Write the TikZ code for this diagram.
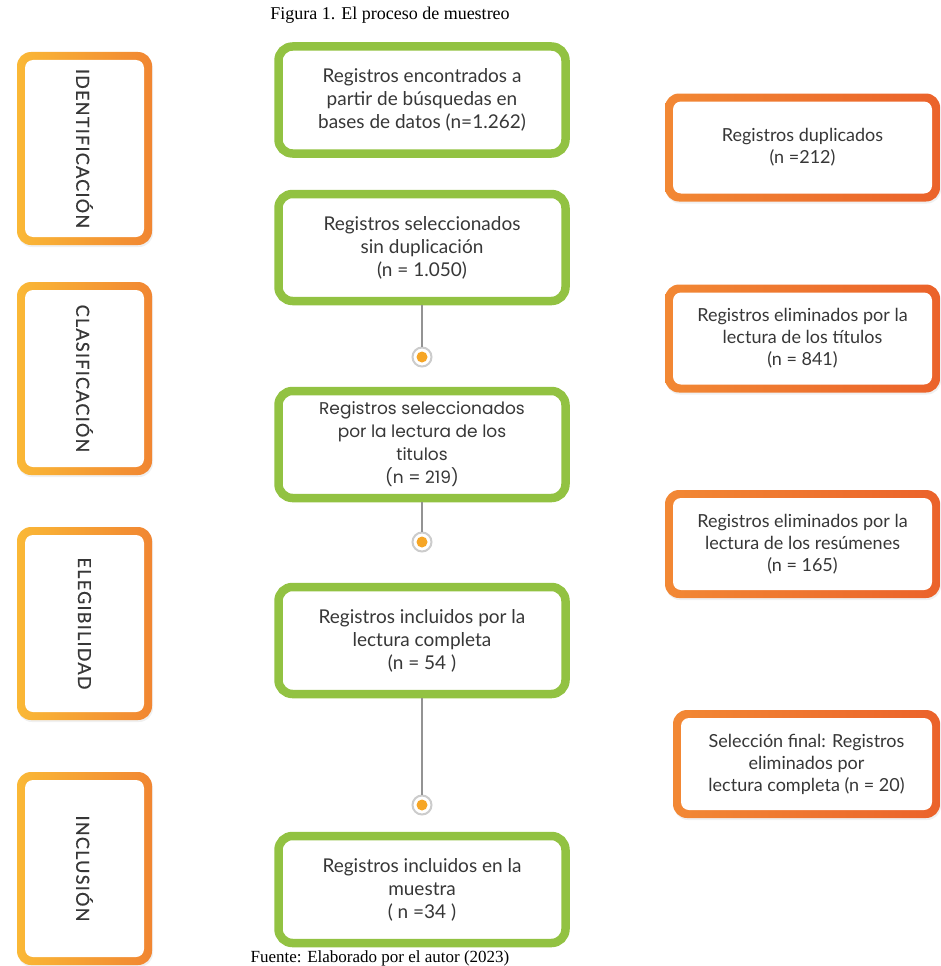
\documentclass[tikz,border=0pt]{standalone}
\usepackage{fontspec}
\usepackage{graphicx}
\setmainfont{Liberation Serif}
\setsansfont{Lato}
\newfontfamily\geofont{Poppins}
\newfontfamily\capsfont[LetterSpace=7,FakeBold=0.6]{Lato}
\usetikzlibrary{positioning,shadows}

\definecolor{boxgreen}{RGB}{146,194,66}
\definecolor{phaseA}{RGB}{250,184,54}
\definecolor{phaseB}{RGB}{241,134,50}
\definecolor{exclA}{RGB}{242,136,52}
\definecolor{exclB}{RGB}{235,98,42}
\definecolor{txtgray}{RGB}{55,55,55}
\definecolor{dotorange}{RGB}{246,166,38}

\begin{document}
\begin{tikzpicture}[x=1pt, y=-1pt, node distance=150pt,
main/.style = {draw=boxgreen, line width=8.5pt, rounded corners=14pt, fill=white,
  minimum width=287pt, minimum height=107pt, align=center, text=txtgray,
  font=\sffamily\fontsize{19}{23}\selectfont,
  drop shadow={opacity=0.12, shadow xshift=1pt, shadow yshift=-2pt}},
phase/.style = {rounded corners=14pt, minimum width=135pt, minimum height=193pt,
  left color=phaseA, right color=phaseB, text=txtgray,
  font=\capsfont\fontsize{18}{20}\selectfont,
  drop shadow={opacity=0.12, shadow xshift=1pt, shadow yshift=-2pt},
  path picture={\fill[white, rounded corners=8pt]
    ([shift={(8pt,8pt)}]path picture bounding box.south west) rectangle
    ([shift={(-8pt,-8pt)}]path picture bounding box.north east);}},
excl/.style = {rounded corners=14pt, minimum width=275pt, minimum height=108pt,
  left color=exclA, right color=exclB, align=center, text=txtgray,
  font=\sffamily\fontsize{18}{22}\selectfont,
  drop shadow={opacity=0.12, shadow xshift=1pt, shadow yshift=-2pt},
  path picture={\fill[white, rounded corners=8pt]
    ([shift={(8pt,8pt)}]path picture bounding box.south west) rectangle
    ([shift={(-8pt,-8pt)}]path picture bounding box.north east);}},
dot/.style = {circle, draw=gray!40, line width=2pt, fill=white,
  minimum size=19pt, inner sep=0pt,
  path picture={\fill[dotorange] (path picture bounding box.center) circle (5.5pt);}},
link/.style = {draw=gray!85, line width=1.2pt}]

    \useasboundingbox (0,0) rectangle (941,966);

    \node[font=\fontsize{18}{20}\selectfont] (0) at (390,15) {Figura 1. El proceso de muestreo};

    % flujo central
    \node[main] (1) at (422,100) {Registros encontrados a\\partir de búsquedas en\\bases de datos (n=1.262)};
    \node[main] (2) [below of=1, node distance=147.5pt] {Registros seleccionados\\sin duplicación\\(n = 1.050)};
    \node[main, font=\geofont\fontsize{17}{23}\selectfont] (3) [below of=2, node distance=197pt] {Registros seleccionados\\por la lectura de los\\titulos\\(n = 219)};
    \node[main] (4) [below of=3, node distance=196pt] {Registros incluidos por la\\lectura completa\\(n = 54 )};
    \node[main] (5) [below of=4, node distance=249pt] {Registros incluidos en la\\muestra\\( n =34 )};

    % fases
    \node[phase] (6) at (84.5,148.5) {\rotatebox{-90}{IDENTIFICACIÓN}};
    \node[phase] (7) [below of=6, node distance=230pt] {\rotatebox{-90}{CLASIFICACIÓN}};
    \node[phase] (8) [below of=7, node distance=245pt] {\rotatebox{-90}{ELEGIBILIDAD}};
    \node[phase] (9) [below of=8, node distance=245pt] {\rotatebox{-90}{INCLUSIÓN}};

    % excluidos
    \node[excl] (10) at (802.5,147.5) {Registros duplicados\\(n =212)};
    \node[excl] (11) [below of=10, node distance=191pt] {Registros eliminados por la\\lectura de los títulos\\(n = 841)};
    \node[excl] (12) [below of=11, node distance=205.5pt] {Registros eliminados por la\\lectura de los resúmenes\\(n = 165)};
    \node[excl, minimum width=267pt] (13) [below of=12, node distance=220pt, xshift=4pt] {Selección final: Registros\\eliminados por\\lectura completa (n = 20)};

    \node[dot] (14) [below of=2, node distance=109.5pt] {};
    \node[dot] (15) [below of=3, node distance=97.5pt] {};
    \node[dot] (16) [below of=4, node distance=164.5pt] {};

    \draw[link] (2) -- (14);
    \draw[link] (3) -- (15);
    \draw[link] (4) -- (16);

    \node[font=\fontsize{17}{19}\selectfont, anchor=north, inner sep=0pt] (17) at (380,950) {Fuente: Elaborado por el autor (2023)};

\end{tikzpicture}
\end{document}
